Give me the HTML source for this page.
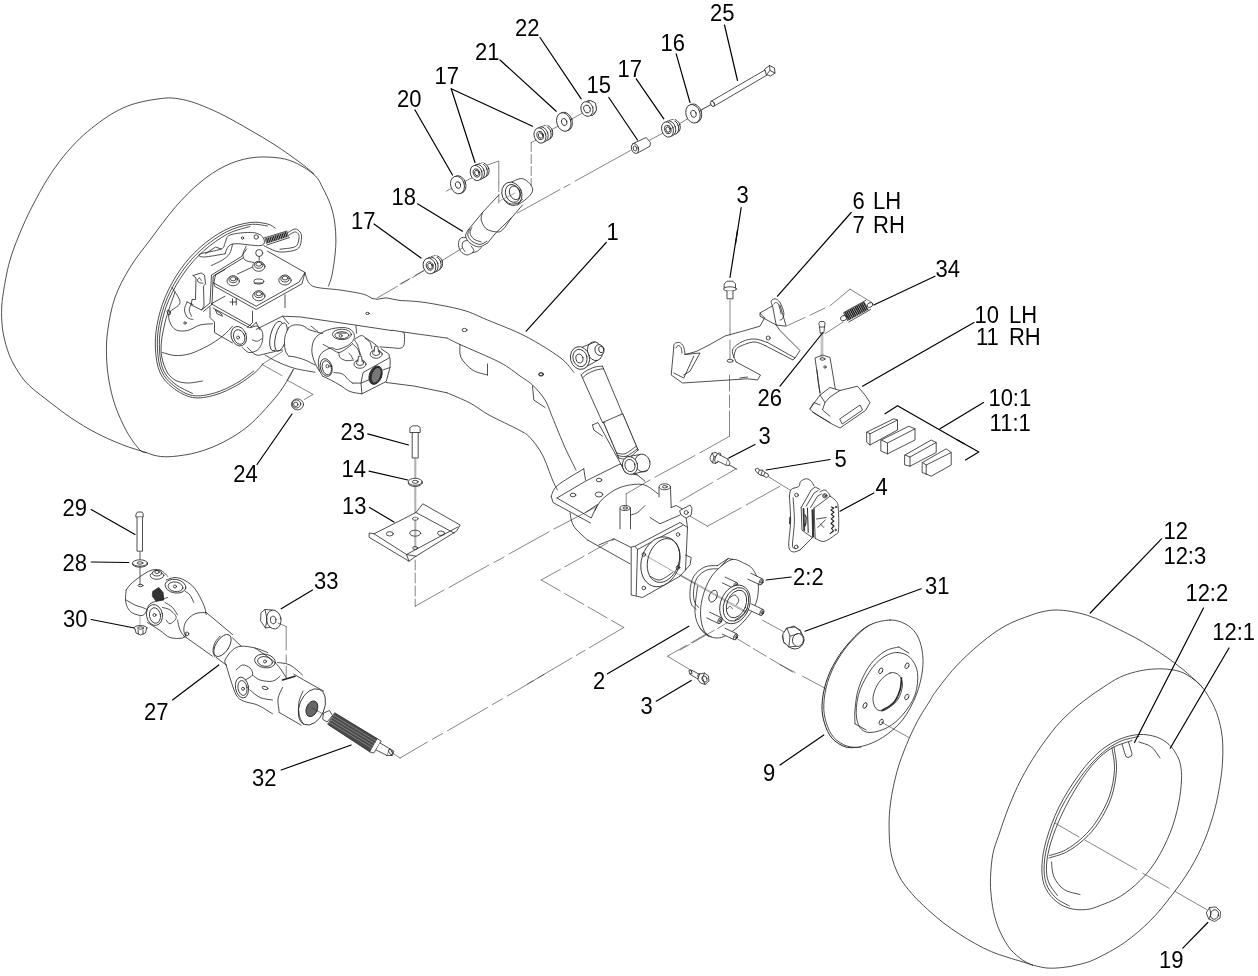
<!DOCTYPE html>
<html><head><meta charset="utf-8"><title>Rear axle assembly</title>
<style>
html,body{margin:0;padding:0;background:#fff}
svg{display:block}
.t text{font-family:"Liberation Sans",sans-serif;font-size:22px;fill:#000}
</style></head><body>
<svg width="1258" height="976" viewBox="0 0 1258 976">
<rect width="1258" height="976" fill="#fff"/>
<g fill="none" stroke="#222" stroke-width="0.8" stroke-linecap="round" stroke-linejoin="round">
<path d="M146 452.5 C142 451.2 130.1 447.8 121.8 444.5 C113.5 441.2 104.8 437.4 96.3 433 C87.8 428.6 79.4 423.5 70.9 417.8 C62.4 412.1 52.5 404.2 45.4 398.7 C38.3 393.2 33 389.3 28.6 385 C24.2 380.7 22.2 377.9 19 373 C15.8 368.1 12.1 362.2 9.5 355.6 C6.9 349 4.5 340.5 3.2 333.3 C1.9 326.1 1.6 319.3 1.6 312.7 C1.6 306.1 1.9 302.1 3.2 293.6 C4.5 285.1 6.8 271.6 9.5 261.8 C12.2 252 15.4 244.1 19.1 235 C22.8 225.9 27 216.6 31.8 207.2 C36.6 197.8 42.4 187.1 47.7 178.6 C53 170.1 58.3 162.9 63.6 156.3 C68.9 149.7 74.2 144 79.5 138.8 C84.8 133.6 90.1 129.4 95.4 125.3 C100.7 121.2 106 117.4 111.3 114.2 C116.6 111 121.9 108.3 127.2 106.2 C132.5 104.1 137.8 102.7 143.1 101.5 C148.4 100.3 154.2 99.4 159 98.8 C163.8 98.2 166.9 97.7 171.7 98 C176.5 98.3 182.4 99.3 187.7 100.7 C193 102.1 197.4 103.7 203.6 106.2 C209.8 108.8 217.3 112 225 116 C232.7 120 241.7 125.2 250 130 C258.3 134.8 266.7 139.6 275 145 C283.3 150.4 293.5 157.7 300 162.5 C306.5 167.3 311.7 172.1 314 174"/>
<path d="M146 452.5 C144.9 452 142.8 453.1 139.6 449.6 C136.4 446.2 130.9 439 126.9 431.8 C122.9 424.6 118.4 414.8 115.4 406.3 C112.4 397.8 110.5 389.4 109 380.9 C107.5 372.4 106.7 363.9 106.5 355.4 C106.3 346.9 106.4 339.6 107.8 330 C109.2 320.4 111.3 307.9 115 297.5 C118.7 287.1 124.2 277.1 130 267.5 C135.8 257.9 142.5 250 150 240 C157.5 230 166.7 217.1 175 207.5 C183.3 197.9 191.7 189.4 200 182.5 C208.3 175.6 216.7 170.1 225 166 C233.3 161.9 241.7 159.4 250 158 C258.3 156.6 267.5 156.8 275 157.5 C282.5 158.2 288.4 159.5 295 162.5 C301.6 165.5 310.3 171.1 314.9 175.4 C319.5 179.7 320.1 183.1 322.8 188.1 C325.5 193.1 328.8 199.8 330.8 205.6 C332.8 211.4 334 217.4 334.8 223.1 C335.6 228.8 335.9 234.7 335.9 240 C335.9 245.3 335.6 249.2 335 255 C334.4 260.8 333.1 269.8 332 275 C330.9 280.2 329.1 284.2 328.5 286"/>
<path d="M293.5 369.4 C292.4 371.3 290.3 376 287.1 380.9 C283.9 385.8 280.8 391.3 274.4 398.7 C268 406.1 257.5 418.2 249 425.4 C240.5 432.6 232 437.6 223.5 442 C215 446.4 206.6 449.7 198.1 452.1 C189.6 454.5 179.5 455.9 172.7 456.5 C165.9 457.1 161.8 456.7 157.4 456 C153 455.3 147.9 453.1 146 452.5"/>
<path d="M275 228 C273.8 227.3 271.7 224.9 267.5 224 C263.3 223.1 257.1 221.5 250 222.5 C242.9 223.5 233.3 225.8 225 230 C216.7 234.2 207.5 240.8 200 247.5 C192.5 254.2 185.8 261.7 180 270 C174.2 278.3 168.8 288.3 165 297.5 C161.2 306.7 158.6 316.2 157 325 C155.4 333.8 155 342.1 155.5 350 C156 357.9 157.2 366.2 160 372.5 C162.8 378.8 167.1 383.3 172.5 387.5 C177.9 391.7 185.4 396.2 192.5 397.5 C199.6 398.8 207.5 397.1 215 395 C222.5 392.9 230.8 388.8 237.5 385 C244.2 381.2 250.8 376 255 372.5 C259.2 369 261.7 365.2 263 363.8"/>
<path d="M267.5 226 C264.6 225.8 256.9 223.5 250 224.5 C243.1 225.5 234.3 227.9 226.2 232 C218.2 236.1 209.1 242.7 201.8 249.2 C194.4 255.8 187.8 263.3 182 271.5 C176.2 279.7 170.8 289.5 167 298.5 C163.2 307.5 160.6 316.9 159 325.5 C157.4 334.1 157 342.3 157.5 350 C158 357.7 159 365.5 161.8 371.5 C164.5 377.5 168.6 381.8 173.8 385.8 C178.9 389.8 185.7 394.3 192.5 395.5 C199.3 396.7 207.2 395 214.5 393 C221.8 391 230 386.9 236.5 383.2 C243 379.6 250.9 373 253.8 371"/>
<path d="M250 226.5 C246.2 227.8 235.2 229.9 227.5 234 C219.8 238.1 210.8 244.5 203.5 251 C196.2 257.5 189.8 264.9 184 273 C178.2 281.1 172.8 290.7 169 299.5 C165.2 308.3 162.6 317.6 161 326 C159.4 334.4 159.1 342.6 159.5 350 C159.9 357.4 160.9 364.8 163.5 370.5 C166.1 376.2 170.2 380.2 175 384 C179.8 387.8 189.6 391.9 192.5 393.5"/>
<path d="M175 292 C173.3 297.1 167.3 312.8 165 322.5 C162.7 332.2 160.8 342.1 161 350 C161.2 357.9 163.7 365 166 370 C168.3 375 171.4 377.8 175 380 C178.6 382.2 182.9 382.8 187.5 383 C192.1 383.2 200 381.3 202.5 381"/>
<path d="M162.5 352.5 C164.6 353 170.4 355.3 175 355.5 C179.6 355.7 184.6 355.3 190 353.8 C195.4 352.2 202.1 348.9 207.5 346 C212.9 343.1 218.3 339.5 222.5 336.2 C226.7 333 230.8 327.9 232.5 326.2"/>
<path d="M172 287.5 C173.3 290 180.4 298.3 180 302.5 C179.6 306.7 171.2 309.2 169.5 312.5 C167.8 315.8 168.9 319.6 170 322.5 C171.1 325.4 173.3 328.7 176.2 330 C179.2 331.3 183.5 331.3 187.5 330.5 C191.5 329.7 195.8 326.1 200 325 C204.2 323.9 210.4 324 212.5 323.8"/>
<ellipse cx="185" cy="323" rx="1.2" ry="1.2"/>
<ellipse cx="168.8" cy="312.5" rx="1.5" ry="2.5" transform="rotate(-20 168.8 312.5)"/>
<path d="M193 275.5 L201.2 273 L204.5 275 L205.5 283.8 L203.5 286.2 L204 306.2 L201.5 310 L191.2 305 L192 299.5 L195.5 299.5 L196 278 L193 275.5"/>
<path d="M201.2 280.5 C201 280.1 200.1 278.1 199.5 278 C198.9 277.9 197.6 279.2 197.5 280 C197.4 280.8 198.1 282 199 282.5 C199.9 283 202.3 283.1 203 283.2"/>
<path d="M201.5 310 L210 303 L211.5 275 L241.5 256.5 L246.5 249"/>
<path d="M203.5 311.2 L212 304.5 L213.2 276.2 L243 258"/>
<path d="M187 302 C186.6 303.3 184.4 307.4 184.5 310 C184.6 312.6 186.1 315.9 187.5 317.5 C188.9 319.1 192.1 319.2 193 319.5"/>
<path d="M191.2 303.8 C190.9 304.8 189.2 307.9 189.2 310 C189.3 312.1 191.1 315.2 191.5 316.2"/>
<path d="M187 302 L193 304.5"/>
<path d="M225 253.8 C221.5 254.3 207.9 257 203.8 257 C199.6 257 197.1 255.3 200 254 C202.9 252.7 217.1 250.8 221.2 249 C225.4 247.2 223.5 245.3 225 243 C226.5 240.7 225.4 236.8 230 235 C234.6 233.2 247 232.1 252.5 232.5 C258 232.9 261.6 235.3 263 237.5 C264.4 239.7 266.1 244.4 261 245.5 C255.9 246.6 238.5 242.6 232.5 244 C226.5 245.4 226.2 252.1 225 253.8"/>
<ellipse cx="242.5" cy="238" rx="1.2" ry="1.2"/>
<ellipse cx="256.2" cy="237" rx="2.2" ry="2.2"/>
<path d="M205.5 253.8 L215.5 247 L221.2 249"/>
<path d="M232.5 244.5 C232 246 231.2 251.2 229.5 253.8 C227.8 256.3 225.5 258 222.5 260 C219.5 262 213.3 264.6 211.5 265.5"/>
<path d="M246.2 246.2 C245.7 247.5 243.2 251.5 243 253.8 C242.8 256 243.2 258.5 245 260 C246.8 261.5 252.3 262.1 253.8 262.5"/>
<path d="M265.5 241.2 L288 234" stroke="#222" stroke-width="5.2" stroke-linecap="butt"/>
<path d="M265.5 241.2 L288 234" stroke="#fff" stroke-width="5.4" stroke-linecap="butt" stroke-dasharray="0.45 1.35" stroke-dashoffset="-0.8"/>
<path d="M264 238 L287 231"/>
<path d="M267 245 L289.5 237.5"/>
<path d="M288 232.5 C289.2 231.9 293 229.1 295 229 C297 228.9 298.9 230.5 300 232 C301.1 233.5 301.9 235.2 301.5 238 C301.1 240.8 301.1 246.7 297.5 249 C293.9 251.3 285 252.2 280 252 C275 251.8 270.2 248.6 267.5 247.5 C264.8 246.4 264.4 245.8 263.8 245.5"/>
<path d="M289 235 C289.9 234.5 293 232.2 294.5 232 C296 231.8 297.2 232.5 298 233.5 C298.8 234.5 299.4 235.8 299 238 C298.6 240.2 298.7 244.6 295.5 246.5 C292.3 248.4 282.6 248.8 280 249.2"/>
<ellipse cx="259.2" cy="253" rx="3.5" ry="3.5" fill="#fff"/>
<path d="M259.2 256.5 L259.2 260"/>
<path d="M213.8 283 L256.2 306.2 L299.2 282 L305 272.5 L267.5 251.2"/>
<path d="M213.8 283 L214.5 286.2 L256.2 309.5 L302 283.8 L305 272.5"/>
<path d="M215.5 275 L213.8 283"/>
<path d="M215.5 275 L225 269.5"/>
<path d="M237.5 274 L252.5 267"/>
<ellipse cx="258.8" cy="266.5" rx="6.2" ry="4.8" fill="#fff"/>
<ellipse cx="258.8" cy="264.8" rx="4.2" ry="3.5" fill="#fff"/>
<ellipse cx="258.8" cy="264.2" rx="2.8" ry="2"/>
<ellipse cx="233.2" cy="281" rx="6.2" ry="4.8" fill="#fff"/>
<ellipse cx="233.2" cy="279.2" rx="4.2" ry="3.5" fill="#fff"/>
<ellipse cx="233.2" cy="278.8" rx="2.8" ry="2"/>
<ellipse cx="285" cy="280.2" rx="6.2" ry="4.8" fill="#fff"/>
<ellipse cx="285" cy="278.5" rx="4.2" ry="3.5" fill="#fff"/>
<ellipse cx="285" cy="278" rx="2.8" ry="2"/>
<ellipse cx="258.8" cy="296" rx="6.2" ry="4.8" fill="#fff"/>
<ellipse cx="258.8" cy="294.2" rx="4.2" ry="3.5" fill="#fff"/>
<ellipse cx="258.8" cy="293.8" rx="2.8" ry="2"/>
<ellipse cx="258.8" cy="281.5" rx="5" ry="2.5"/>
<path d="M254.5 283 L263 283"/>
<path d="M211.2 303.8 L225 296.2"/>
<path d="M211.2 303.8 L251.2 326.2"/>
<path d="M232.5 298.8 L232.5 305"/>
<path d="M230 302 L236.2 302"/>
<path d="M236.2 298.8 L236.2 305"/>
<path d="M252.5 311.2 L252.5 322.5 L247.5 327.5"/>
<path d="M285 295 L285 307.5"/>
<path d="M210 307.5 L210 317.5 L214.5 322 L214.5 332.5 L232.5 343"/>
<path d="M215.5 310 L221.2 313.8 L222.5 316.2 L217 313.8 L215.5 310"/>
<path d="M213 308 L250 328 L256.2 322.5"/>
<ellipse cx="238.8" cy="336.2" rx="7.5" ry="10" transform="rotate(-20 238.8 336.2)" fill="#fff"/>
<ellipse cx="239.2" cy="337" rx="5.5" ry="7.5" transform="rotate(-20 239.2 337)"/>
<ellipse cx="238" cy="337.5" rx="1.5" ry="1.5"/>
<path d="M251.2 327.5 C252.3 327.3 255.6 325.4 257.5 326.2 C259.4 327.1 261.8 329.8 262.5 332.5 C263.2 335.2 262.8 339.6 262 342.5 C261.2 345.4 259.7 348.3 257.5 350 C255.3 351.7 251.2 352.9 248.8 352.5 C246.2 352.1 243.5 348.3 242.5 347.5"/>
<path d="M252.5 340 C253.3 340.2 256 341.5 257.5 341.2 C259 341 260.8 339.2 261.5 338.8"/>
<path d="M256.2 322.5 L260 330"/>
<path d="M305 273 C306.2 275.2 306.7 283.2 312.5 286 C318.3 288.8 331.7 288.7 340 290 C348.3 291.3 357.1 292.6 362.5 294 C367.9 295.4 370.7 297.8 372.3 298.5"/>
<path d="M372.3 298.5 L377 299.3 L386 297.8 L400 300.5"/>
<path d="M256.2 329.4 L282.5 316.2 L300 316.9 L355 325 L392 330.6"/>
<path d="M392 330.2 L402.5 331.9 L447 338.1"/>
<ellipse cx="367.5" cy="313.4" rx="1.8" ry="1.1"/>
<path d="M356 325.6 L356.5 333.1"/>
<path d="M402.5 331.9 C402.8 332.2 404.1 331.8 404.4 334 C404.6 336.2 404.7 342.6 404 345 C403.3 347.4 401.9 347.8 400 348.2 C398.1 348.7 395.8 348 392.5 347.8 C389.2 347.5 382.1 347 380 346.9"/>
<path d="M386.2 382.5 L415 386.2 L447 392.8"/>
<ellipse cx="276.5" cy="336" rx="6" ry="15.2" transform="rotate(14 276.5 336)" fill="#fff"/>
<ellipse cx="281" cy="337" rx="5.5" ry="14.5" transform="rotate(14 281 337)" fill="#fff"/>
<path d="M282.5 316.2 L288.8 323.8"/>
<path d="M288.8 327.5 C288.1 329.2 285.3 333.8 284.8 337.5 C284.2 341.2 284.6 346.9 285.2 350 C285.9 353.1 288.2 355.2 288.8 356.2" fill="#fff"/>
<path d="M288.8 327.5 C289.6 327.1 291.5 325.3 293.8 325 C296 324.7 299.8 324.8 302.5 325.6 C305.2 326.5 306.7 328.7 310 330 C313.3 331.3 320.4 332.9 322.5 333.5"/>
<path d="M288.8 356.2 C289.8 356.4 292.3 356.4 295 357 C297.7 357.6 301.7 358.7 305 360 C308.3 361.3 313.3 364.2 315 365"/>
<path d="M311.2 326.2 C311.9 326.8 314 328.5 315 329.4 C316 330.2 317.1 330.9 317.5 331.2"/>
<path d="M247.5 347.5 C249 348.8 253.3 354 256.2 355 C259.2 356 261.7 354.4 265 353.8 C268.3 353.1 273.3 351.9 276.2 351.2 C279.2 350.6 281.5 350.2 282.5 350"/>
<path d="M265 355 C266.9 356 271.5 359.1 276.2 361.2 C281 363.4 287.3 366.3 293.8 368.1 C300.2 370 311.5 371.6 315 372.2"/>
<path d="M282.5 351.5 L261.9 364.4 L281.9 375.6" stroke-width="0.6" stroke="#333"/>
<path d="M287.5 379.4 L293.1 369.4" stroke-width="0.6" stroke="#333"/>
<path d="M286.9 380 L313.1 394.4 L304.4 399.4" stroke-width="0.6" stroke="#333"/>
<path d="M322.8 376.2 C322.2 375.2 320.1 372.7 319.4 370 C318.7 367.3 318 362.9 318.5 360 C319 357.1 320.1 354.5 322.2 352.5 C324.4 350.5 328.7 348.2 331.2 347.8 C333.8 347.2 334.6 350 337.5 349.5 C340.4 349 345.9 347 348.8 345 C351.6 343 353.9 340 354.4 337.5 C354.8 335 353.5 331.9 351.5 330.2 C349.5 328.6 346.5 327.5 342.5 327.5 C338.5 327.5 332 328.3 327.5 330 C323 331.7 318.2 334.4 315.6 337.5 C313 340.6 312.2 345 311.9 348.8 C311.6 352.5 312.5 356.2 313.8 360 C315 363.8 318.4 369.4 319.4 371.2"/>
<ellipse cx="341.9" cy="334.4" rx="9.5" ry="5.2" fill="#fff"/>
<ellipse cx="341.9" cy="335.2" rx="7" ry="3.5"/>
<ellipse cx="340.6" cy="335.8" rx="1.5" ry="1.5"/>
<path d="M337.5 333.1 L346.2 333.1"/>
<ellipse cx="326.2" cy="367.5" rx="5.8" ry="9" transform="rotate(-15 326.2 367.5)" fill="#fff"/>
<ellipse cx="326.8" cy="367.8" rx="4.5" ry="7.2" transform="rotate(-15 326.8 367.8)"/>
<ellipse cx="327.5" cy="366.2" rx="1.6" ry="1.6"/>
<path d="M323.1 344.4 C324.5 345.1 328.6 347.4 331.2 348.8 C333.9 350.1 336.2 352.5 338.8 352.5 C341.2 352.5 344 350.2 346.2 348.8 C348.5 347.3 351.5 344.6 352.5 343.8"/>
<path d="M338.8 352.5 C339 353.3 338.8 356.1 340 357.5 C341.2 358.9 344 360.2 346.2 360.6 C348.5 361 352.5 360.1 353.8 360"/>
<path d="M352.5 343.8 C353.3 344.6 356.2 346.9 357.5 348.8 C358.8 350.6 359.6 354 360 355"/>
<path d="M348.8 353.1 C349.2 353.5 350.6 354.7 351.2 355.6 C351.9 356.6 352.3 358.2 352.5 358.8"/>
<path d="M355 339 C356 338.4 359.5 335.8 361.2 335.6 C363 335.4 363.1 336.2 365.6 337.8 C368.1 339.3 374.5 343.8 376.2 345"/>
<path d="M354.4 340 C354.9 340.8 356.5 342.5 357.5 345 C358.5 347.5 360.1 353.3 360.6 355"/>
<path d="M365 338.1 C365.8 338.9 368.9 340.7 370 342.5 C371.1 344.3 371.6 347.7 371.9 348.8"/>
<path d="M381.2 348.8 L388.8 354 L390.2 360 L390 367.5 L386.2 381.5 L361.9 393.8 L361 383.1 L363.1 372.5 L388.8 358.1"/>
<path d="M352.5 383.1 L361 383.1 L370 379.4"/>
<path d="M382.8 370 L390 367.5"/>
<path d="M334 372.5 C335.4 372.8 340 372.7 342.5 374 C345 375.3 347.1 378.7 348.8 380.2 C350.4 381.8 351.9 382.6 352.5 383.1"/>
<path d="M322.8 376.2 C324.2 376.9 328.4 378.8 331.2 380.2 C334.1 381.8 336.9 383.4 340 385.2 C343.1 387.1 346.4 390.1 350 391.5 C353.6 392.9 359.9 393.4 361.9 393.8"/>
<ellipse cx="375.6" cy="375.2" rx="6.2" ry="9.5" transform="rotate(20 375.6 375.2)" fill="#333"/>
<ellipse cx="376.2" cy="375.2" rx="4.5" ry="8.2" transform="rotate(20 376.2 375.2)" fill="#777" stroke="#222"/>
<ellipse cx="360" cy="364.1" rx="6" ry="4.2" fill="#fff"/>
<ellipse cx="360" cy="362.5" rx="3.8" ry="3" fill="#fff"/>
<path d="M357.8 361.9 L358.5 356.2 L361.5 356.2 L362.2 361.9" fill="#fff"/>
<ellipse cx="376.2" cy="354.1" rx="6" ry="4.2" fill="#fff"/>
<ellipse cx="376.2" cy="352.5" rx="3.8" ry="3" fill="#fff"/>
<path d="M374 351.9 L374.8 346.2 L377.8 346.2 L378.5 351.9" fill="#fff"/>
<ellipse cx="297.5" cy="404.4" rx="6" ry="5.5" fill="#fff"/>
<ellipse cx="296.5" cy="404" rx="4.2" ry="4"/>
<ellipse cx="295.8" cy="404.4" rx="2.2" ry="2.2"/>
<path d="M257 464.5 L292 414" stroke-width="1.2" stroke="#000000"/>
<path d="M374 224 L421 258" stroke-width="1.2" stroke="#000000"/>
<path d="M377 298 L397.5 286.2" stroke-width="0.6" stroke="#333"/>
<path d="M401.2 284 L408.8 279.5" stroke-width="0.6" stroke="#333"/>
<path d="M412.5 277.5 L423.8 270.8" stroke-width="0.6" stroke="#333"/>
<path d="M446.2 191.2 L475 176.2" stroke-width="0.6" stroke="#333"/>
<path d="M547.5 131.8 L585 111.8" stroke-width="0.6" stroke="#333"/>
<path d="M650 140 L663 133" stroke-width="0.6" stroke="#333"/>
<path d="M677.5 125 L688 118.5" stroke-width="0.6" stroke="#333"/>
<path d="M700 110.5 L714 103" stroke-width="0.6" stroke="#333"/>
<ellipse cx="459" cy="184.5" rx="6.8" ry="9" transform="rotate(-18 459 184.5)" fill="#fff"/>
<ellipse cx="457.5" cy="185" rx="6.8" ry="9" transform="rotate(-18 457.5 185)" fill="#fff"/>
<ellipse cx="458" cy="185" rx="2.6" ry="3.4" transform="rotate(-18 458 185)"/>
<ellipse cx="483.8" cy="169.8" rx="5.1" ry="7" transform="rotate(-18 483.8 169.8)" fill="#fff"/>
<ellipse cx="481.6" cy="170.7" rx="5.6" ry="7.5" transform="rotate(-18 481.6 170.7)" fill="#fff"/>
<path d="M477.8 165.5 L483.1 163.4" stroke-width="1.6" stroke="#fff"/>
<ellipse cx="478.5" cy="172" rx="5.8" ry="7.8" transform="rotate(-18 478.5 172)" fill="#fff"/>
<ellipse cx="476.2" cy="173" rx="5.8" ry="7.8" transform="rotate(-18 476.2 173)" fill="#fff"/>
<ellipse cx="476.5" cy="173" rx="3.2" ry="4.3" transform="rotate(-18 476.5 173)"/>
<ellipse cx="476.8" cy="173" rx="2.1" ry="2.8" transform="rotate(-18 476.8 173)"/>
<ellipse cx="547.5" cy="132.2" rx="5.1" ry="7" transform="rotate(-18 547.5 132.2)" fill="#fff"/>
<ellipse cx="545.4" cy="133.2" rx="5.6" ry="7.5" transform="rotate(-18 545.4 133.2)" fill="#fff"/>
<path d="M541.5 128 L546.9 125.9" stroke-width="1.6" stroke="#fff"/>
<ellipse cx="542.2" cy="134.5" rx="5.8" ry="7.8" transform="rotate(-18 542.2 134.5)" fill="#fff"/>
<ellipse cx="540" cy="135.5" rx="5.8" ry="7.8" transform="rotate(-18 540 135.5)" fill="#fff"/>
<ellipse cx="540.2" cy="135.5" rx="3.2" ry="4.3" transform="rotate(-18 540.2 135.5)"/>
<ellipse cx="540.5" cy="135.5" rx="2.1" ry="2.8" transform="rotate(-18 540.5 135.5)"/>
<ellipse cx="565.2" cy="121.5" rx="7" ry="9.5" transform="rotate(-18 565.2 121.5)" fill="#fff"/>
<ellipse cx="563.8" cy="122" rx="7" ry="9.5" transform="rotate(-18 563.8 122)" fill="#fff"/>
<ellipse cx="564.2" cy="122" rx="2.7" ry="3.6" transform="rotate(-18 564.2 122)"/>
<ellipse cx="590" cy="108" rx="6" ry="7.5" transform="rotate(-18 590 108)" fill="#fff"/>
<path d="M585.5 102.5 L590.5 100.5 L595.5 103 L596.5 110 L592.5 115.5 L587 114.5" fill="#fff"/>
<ellipse cx="587" cy="109" rx="6" ry="7.5" transform="rotate(-18 587 109)" fill="#fff"/>
<ellipse cx="587" cy="109" rx="3.2" ry="4" transform="rotate(-18 587 109)"/>
<path d="M632.5 143.8 L646.2 137.5 L650.5 142.5 L650 146.2 L637.5 153" fill="#fff"/>
<ellipse cx="635" cy="148.5" rx="3.5" ry="5" transform="rotate(-18 635 148.5)" fill="#fff"/>
<ellipse cx="635" cy="148.5" rx="1.8" ry="2.5" transform="rotate(-18 635 148.5)"/>
<ellipse cx="675" cy="126.2" rx="5.1" ry="7" transform="rotate(-18 675 126.2)" fill="#fff"/>
<ellipse cx="672.9" cy="127.2" rx="5.6" ry="7.5" transform="rotate(-18 672.9 127.2)" fill="#fff"/>
<path d="M669 122 L674.4 119.9" stroke-width="1.6" stroke="#fff"/>
<ellipse cx="669.8" cy="128.5" rx="5.8" ry="7.8" transform="rotate(-18 669.8 128.5)" fill="#fff"/>
<ellipse cx="667.5" cy="129.5" rx="5.8" ry="7.8" transform="rotate(-18 667.5 129.5)" fill="#fff"/>
<ellipse cx="667.8" cy="129.5" rx="3.2" ry="4.3" transform="rotate(-18 667.8 129.5)"/>
<ellipse cx="668" cy="129.5" rx="2.1" ry="2.8" transform="rotate(-18 668 129.5)"/>
<ellipse cx="694.5" cy="113.2" rx="7" ry="9.5" transform="rotate(-18 694.5 113.2)" fill="#fff"/>
<ellipse cx="693" cy="113.8" rx="7" ry="9.5" transform="rotate(-18 693 113.8)" fill="#fff"/>
<ellipse cx="693.5" cy="113.8" rx="2.7" ry="3.6" transform="rotate(-18 693.5 113.8)"/>
<path d="M487.5 165 L498.8 161 L498.8 182.5" stroke-width="0.6" stroke="#333"/>
<path d="M498.8 182.5 L498.8 203" stroke-width="0.6" stroke="#333" stroke-dasharray="9 3"/>
<path d="M536.2 140 L531.2 142.5" stroke-width="0.6" stroke="#333"/>
<path d="M531.2 142.5 L531.2 185.5" stroke-width="0.6" stroke="#333" stroke-dasharray="9 3"/>
<path d="M630.5 150.5 L575 181.2" stroke-width="0.6" stroke="#333"/>
<path d="M570 184.2 L563.8 187.5" stroke-width="0.6" stroke="#333"/>
<path d="M560 189.5 L517.5 213" stroke-width="0.6" stroke="#333"/>
<path d="M540 37.5 L581.2 98.8" stroke-width="1.2" stroke="#000000"/>
<path d="M500 60 L556.2 111.2" stroke-width="1.2" stroke="#000000"/>
<path d="M451.2 88.8 L475 162.5" stroke-width="1.2" stroke="#000000"/>
<path d="M451.2 88.8 L532.5 126.2" stroke-width="1.2" stroke="#000000"/>
<path d="M415 110 L452.5 175" stroke-width="1.2" stroke="#000000"/>
<path d="M608.8 97.5 L637.5 140" stroke-width="1.2" stroke="#000000"/>
<path d="M636.2 78.8 L663.8 118.8" stroke-width="1.2" stroke="#000000"/>
<path d="M676.2 53.8 L690 102.5" stroke-width="1.2" stroke="#000000"/>
<path d="M417.5 203.8 L462.5 231.2" stroke-width="1.2" stroke="#000000"/>
<path d="M498.8 195 L482.5 212.5 L468.1 230"/>
<path d="M522.5 205 L511.2 218.1 L496.2 232.5 L487.5 243.1"/>
<path d="M482.5 212.5 C482.3 213.8 480.6 217.3 481.2 220 C481.9 222.7 483.8 226.8 486.2 228.8 C488.8 230.7 493.5 231.7 496.2 231.9 C499 232.1 500 232.3 502.5 230 C505 227.7 509.8 220.1 511.2 218.1"/>
<path d="M509.4 183.1 C511.4 182.4 517.8 178.4 521.2 178.5 C524.7 178.6 528.1 181.6 530 183.8 C531.9 185.9 533.1 188.7 532.5 191.2 C531.9 193.8 528.8 196.7 526.2 199 C523.8 201.3 519 204 517.5 205"/>
<ellipse cx="511.9" cy="193.8" rx="9.8" ry="12" transform="rotate(-22 511.9 193.8)" fill="#fff"/>
<ellipse cx="512.8" cy="193.4" rx="7.2" ry="9.2" transform="rotate(-22 512.8 193.4)"/>
<ellipse cx="514.8" cy="192.8" rx="5.2" ry="7" transform="rotate(-22 514.8 192.8)"/>
<path d="M505 200 C505.8 200.6 507.9 203.2 510 203.8 C512.1 204.3 515.4 203.9 517.5 203.1 C519.6 202.4 521.7 200 522.5 199.4"/>
<path d="M498.8 201.2 L515 193.1" stroke-width="0.45" stroke="#444"/>
<path d="M468.1 230 C467.7 231 465.3 234.1 465.6 236.2 C465.9 238.4 467.8 241.4 470 243.1 C472.2 244.9 476 246.8 478.8 246.9 C481.5 247 484.8 244.4 486.2 243.8 C487.7 243.1 487.3 243.2 487.5 243.1"/>
<path d="M470 228.8 C469.6 229.8 467.4 232.9 467.8 235 C468.1 237.1 469.8 239.7 471.9 241.2 C473.9 242.8 477.5 244.4 480 244.4 C482.5 244.4 485.7 241.8 486.9 241.2"/>
<path d="M471.9 227.5 C471.6 228.4 469.7 231.2 470 233.1 C470.3 235 471.9 237.5 473.8 239 C475.6 240.5 480 241.4 481.2 241.9"/>
<path d="M465.6 237.5 C464.8 237.6 461.8 237.1 460.6 238.1 C459.4 239.2 458.5 241.6 458.5 243.8 C458.5 245.9 459.2 249.4 460.6 251.2 C462 253.1 464.9 254.8 466.9 255 C468.9 255.2 471.8 252.9 472.8 252.5"/>
<path d="M466.9 240.6 C466.2 240.8 463.9 240.8 463.1 241.9 C462.4 242.9 461.9 245.3 462.2 246.9 C462.6 248.5 464.5 250.7 465 251.5"/>
<path d="M472.8 252.5 C473.5 252.3 476.1 252.1 477.5 251.2 C478.9 250.4 480.6 248.1 481.2 247.5"/>
<path d="M471.2 246.2 C471.7 246.9 473.5 249 473.8 250 C474 251 472.9 252.1 472.8 252.5"/>
<path d="M462.5 248 L440 261.8" stroke-width="0.6" stroke="#333"/>
<ellipse cx="437" cy="262.8" rx="5.5" ry="7.2" transform="rotate(-18 437 262.8)" fill="#fff"/>
<ellipse cx="434.9" cy="263.7" rx="6.1" ry="7.8" transform="rotate(-18 434.9 263.7)" fill="#fff"/>
<path d="M431 258.2 L436.4 256.2" stroke-width="1.6" stroke="#fff"/>
<ellipse cx="431.8" cy="265" rx="6.2" ry="8" transform="rotate(-18 431.8 265)" fill="#fff"/>
<ellipse cx="429.5" cy="266" rx="6.2" ry="8" transform="rotate(-18 429.5 266)" fill="#fff"/>
<ellipse cx="429.8" cy="266" rx="3.4" ry="4.4" transform="rotate(-18 429.8 266)"/>
<ellipse cx="430" cy="266" rx="2.2" ry="2.9" transform="rotate(-18 430 266)"/>
<path d="M400 284 L410 278.5" stroke-width="0.6" stroke="#333"/>
<path d="M415 275.5 L423.8 270.5" stroke-width="0.6" stroke="#333"/>
<path d="M606.2 242.5 L526.2 331.2" stroke-width="1.2" stroke="#000000"/>
<path d="M724.5 25 L737.5 80.5" stroke-width="1.2" stroke="#000000"/>
<path d="M701.2 110 L711.2 104.5" stroke-width="0.6" stroke="#333"/>
<path d="M711.2 101.2 L765 70 L768 74.5 L714 106.2 L711.2 101.2" fill="#fff"/>
<ellipse cx="712.5" cy="103.8" rx="1.8" ry="2.8" transform="rotate(-25 712.5 103.8)" fill="#fff"/>
<path d="M765 68.8 L769.5 65.5 L774.5 68 L775 73 L770.5 76 L766.5 74.5 Z" fill="#fff"/>
<path d="M769.5 65.5 L770 70.5 L775 73"/>
<path d="M770 70.5 L766.5 74.5"/>
<path d="M741.2 207.5 L735.5 244" stroke-width="1.2" stroke="#000000"/>
<path d="M737.5 230 L730 277.5" stroke-width="1.2" stroke="#000000"/>
<path d="M851.2 212.5 L777.5 296.2" stroke-width="1.2" stroke="#000000"/>
<path d="M724.5 283.8 L727 281.2 L733 281.2 L735.5 283.8 L735.5 288 L724.5 288 Z" fill="#fff"/>
<ellipse cx="730" cy="289" rx="6.5" ry="2.2" fill="#fff"/>
<path d="M727 291.2 L727 298.8 L733 298.8 L733 291.2" fill="#fff"/>
<path d="M730 300 L730 335" stroke-width="0.6" stroke="#333"/>
<path d="M730 340 L730 358.8" stroke-width="0.6" stroke="#333"/>
<path d="M673.8 347.5 C673.9 346.9 673.5 344.6 674.5 343.8 C675.5 342.9 678 342 679.5 342.5 C681 343 682.6 344.6 683.5 346.5 C684.4 348.4 684.8 352.8 685 354"/>
<path d="M676 348 C676.3 347.6 677.2 345.6 678 345.5 C678.8 345.4 680.3 346.2 681 347.5 C681.7 348.8 681.8 352.1 682 353"/>
<path d="M685 354.5 L696.2 351.5 L710 344.5 L725 336 L745 330.5 L760 326.2 L764.5 318"/>
<path d="M673.8 347.5 L671.2 375 L682.5 383 L747.5 378.8 L757.5 380 L760.5 375 L736.2 362"/>
<path d="M673.8 373 L683.8 378 L693.8 356.2"/>
<path d="M685 354.5 L700 353 L690 371.2 L683.8 375"/>
<path d="M736.2 362 C735.6 360 731.5 353.4 732.5 350 C733.5 346.6 738.8 343.3 742.5 341.5 C746.2 339.7 750.8 338.8 755 339 C759.2 339.2 765.4 341.9 767.5 342.5"/>
<path d="M767.5 342.5 L795 358 L800 350.5 L780 330.5 L776.2 325"/>
<path d="M733.8 357.5 C734.2 356.1 734.5 351.2 736.2 349 C738 346.8 741.4 345.7 744.5 344.5 C747.6 343.3 751.6 341.8 755 342 C758.4 342.2 763.3 344.9 765 345.5"/>
<path d="M765 345.5 L793 360 L795 358"/>
<ellipse cx="768.2" cy="338" rx="2" ry="2"/>
<ellipse cx="730" cy="360.8" rx="3" ry="1.5"/>
<path d="M740 378 L747.5 377"/>
<path d="M764.5 318 L760 313 L772.5 305.8 L776.2 325 L786.2 326.2 L780 305"/>
<path d="M760 313 L760 316.2 L776.2 325"/>
<path d="M772.5 305.8 C772.3 305 770.8 302.4 771.2 301.2 C771.7 300.1 773.5 298.5 775 298.8 C776.5 299 778.5 300.2 780 302.5 C781.5 304.8 783.3 309.8 783.8 312.5 C784.2 315.2 783.1 317.5 782.5 318.8 C781.9 320 780.4 319.8 780 320"/>
<path d="M773.8 304 C774.2 303.8 775.4 302.3 776.2 302.5 C777.1 302.7 777.9 303.1 778.8 305 C779.6 306.9 780.8 312.3 781.2 313.8"/>
<path d="M787.5 325.5 L805 317.5" stroke-width="0.6" stroke="#333"/>
<path d="M810 315.2 L825 308" stroke-width="0.6" stroke="#333"/>
<path d="M830 305.8 L850 289.2" stroke-width="0.6" stroke="#333"/>
<path d="M850 289.2 L872 302.5" stroke-width="0.6" stroke="#333"/>
<path d="M825 333.8 L843 322" stroke-width="0.6" stroke="#333"/>
<path d="M845.5 317 L866.5 305.5" stroke="#222" stroke-width="9" stroke-linecap="butt"/>
<path d="M845.5 317 L866.5 305.5" stroke="#fff" stroke-width="9.4" stroke-linecap="butt" stroke-dasharray="0.4 1.5" stroke-dashoffset="-0.8"/>
<path d="M843.8 312.5 L865.5 300.5"/>
<path d="M848.8 322 L870.5 309.5"/>
<ellipse cx="843.8" cy="318" rx="3.5" ry="2.5" transform="rotate(-25 843.8 318)"/>
<ellipse cx="870" cy="305" rx="3" ry="2.2" transform="rotate(-25 870 305)"/>
<path d="M935 276.2 L873.8 305" stroke-width="1.2" stroke="#000000"/>
<path d="M819 323 L820 321.5 L824 321.5 L825 323 L824.5 327 L823.8 333 L820.2 333 L819.5 327 Z" fill="#fff"/>
<path d="M819.5 327 L824.5 327"/>
<path d="M821.2 333 L821.2 358" stroke-width="0.45" stroke="#444"/>
<path d="M822.8 333 L822.8 358" stroke-width="0.45" stroke="#444"/>
<path d="M780 386.2 L822.5 333" stroke-width="1.2" stroke="#000000"/>
<path d="M820 393 L815 358 L822.5 355 L830 357.5 L835.5 390"/>
<ellipse cx="822.5" cy="359" rx="2.5" ry="1.2"/>
<ellipse cx="825" cy="367" rx="1.2" ry="1.2"/>
<path d="M820 393 C819.7 390.8 818.5 383.8 818 380 C817.5 376.2 817.2 371.7 817 370"/>
<path d="M810 408.8 L820 395 L830 387.5 L840 390.5 L857.5 386.2 L865 395 L870 402.5 L865.5 410.5 L840 428 L830 423 L812.5 411.8 Z" fill="#fff"/>
<path d="M812.5 411.8 L815 413.8 L830 422.5"/>
<path d="M820 395 L825 402.5 L830 397 L840 390.5"/>
<path d="M825 402.5 L822.5 410 L830 416.2"/>
<path d="M840 418.8 L860 405 L862.5 410 L842.5 423.8 Z"/>
<path d="M810 408.8 L813.8 402.5 L820 405"/>
<path d="M974 322.5 L862.5 386.2" stroke-width="1.2" stroke="#000000"/>
<path d="M885 413.8 L897.5 405.8 L964 443.8" stroke-width="1.2" stroke="#000000"/>
<path d="M940 428.8 L983.5 402.5" stroke-width="1.2" stroke="#000000"/>
<path d="M867 432 L893.8 418.8 L897.5 420 L897.5 430 L870 445 L867 442.5 Z" fill="#fff"/>
<path d="M867 432 L870 433.8 L870 445"/>
<path d="M870 433.8 L897.5 420"/>
<path d="M881.2 440 L908.8 426.2 L915 428.8 L915 440 L887.5 453.8 L881.2 451.2 Z" fill="#fff"/>
<path d="M881.2 440 L887.5 443 L887.5 453.8"/>
<path d="M887.5 443 L915 428.8"/>
<path d="M905 455 L931.2 440 L936.2 442.5 L936.2 452.5 L910 466.2 L905 465 Z" fill="#fff"/>
<path d="M905 455 L910 457 L910 466.2"/>
<path d="M910 457 L936.2 442.5"/>
<path d="M922.5 462.5 L946.2 448.8 L951.2 452.5 L951.2 465 L931.2 476.2 L922.5 472.5 Z" fill="#fff"/>
<path d="M922.5 462.5 L926.2 465 L926.2 474.5"/>
<path d="M926.2 465 L951.2 452.5"/>
<path d="M755 444.5 L728.8 458" stroke-width="1.2" stroke="#000000"/>
<path d="M830 459.5 L766.2 470" stroke-width="1.2" stroke="#000000"/>
<path d="M367.8 433.8 L408.5 445" stroke-width="1.2" stroke="#000000"/>
<path d="M369 471.2 L407.8 480" stroke-width="1.2" stroke="#000000"/>
<path d="M369.5 507.5 L394 522" stroke-width="1.2" stroke="#000000"/>
<path d="M410.2 427.5 L412.8 425.8 L417.8 425.8 L420.2 427.5 L420.2 432.5 L410.2 432.5 Z" fill="#fff"/>
<path d="M412.2 433 L412.2 458 L418.2 458 L418.2 433" fill="#fff"/>
<path d="M414.8 458.8 L414.8 478.8" stroke-width="0.45" stroke="#444"/>
<path d="M415.8 458.8 L415.8 478.8" stroke-width="0.45" stroke="#444"/>
<ellipse cx="415.2" cy="483" rx="7" ry="3.5" fill="#fff"/>
<ellipse cx="415.2" cy="481.8" rx="7" ry="3.5" fill="#fff"/>
<ellipse cx="415.2" cy="481.8" rx="3" ry="1.5"/>
<path d="M414.8 486.2 L414.8 512.5" stroke-width="0.45" stroke="#444"/>
<path d="M415.8 486.2 L415.8 512.5" stroke-width="0.45" stroke="#444"/>
<path d="M369.5 533 L374 533.8 L416 512.5 L422.8 503.8 L460.2 525 L456.5 531.2 L416 556.2 L409 561.2 L369.5 537.5 Z" fill="#fff"/>
<path d="M374 533.8 L406.5 554.5 L416 556.2"/>
<path d="M406.5 554.5 L409 561.2"/>
<path d="M406.5 554.5 L457.8 527"/>
<path d="M416 512.5 L454 533"/>
<ellipse cx="389.8" cy="533.8" rx="3.5" ry="2.2"/>
<ellipse cx="415.2" cy="533.2" rx="5.5" ry="3"/>
<ellipse cx="441" cy="533.2" rx="3.5" ry="2.2"/>
<ellipse cx="415.2" cy="548" rx="2.5" ry="1.5"/>
<ellipse cx="415.25" cy="518.75" rx="3" ry="1.5" stroke-dasharray="1.5 1"/>
<path d="M414.8 520 L414.8 547.5" stroke-width="0.45" stroke="#444"/>
<path d="M415.8 520 L415.8 547.5" stroke-width="0.45" stroke="#444"/>
<path d="M415.2 560 L415.2 606.2" stroke-width="0.6" stroke="#333" stroke-dasharray="10 3"/>
<path d="M415.2 606.2 L444 590" stroke-width="0.6" stroke="#333"/>
<path d="M449 587.5 L489 565" stroke-width="0.6" stroke="#333"/>
<path d="M494 562.5 L504 557" stroke-width="0.6" stroke="#333"/>
<path d="M509 554 L549 531.8" stroke-width="0.6" stroke="#333"/>
<path d="M554 529 L595 507.5" stroke-width="0.6" stroke="#333"/>
<path d="M626.2 493.8 L626.2 507" stroke-width="0.6" stroke="#333"/>
<path d="M626.2 493.8 L650 480" stroke-width="0.6" stroke="#333"/>
<path d="M655 477.2 L695 455.5" stroke-width="0.6" stroke="#333"/>
<path d="M700 452.8 L729.5 436.2" stroke-width="0.6" stroke="#333"/>
<path d="M729.5 375 L729.5 407.5" stroke-width="0.6" stroke="#333" stroke-dasharray="16 4"/>
<path d="M729.5 411.2 L729.5 436.2" stroke-width="0.6" stroke="#333"/>
<path d="M736.2 468.8 L717.5 479.5" stroke-width="0.6" stroke="#333"/>
<path d="M712.5 482.5 L680 501.2" stroke-width="0.6" stroke="#333"/>
<path d="M727.5 463.8 L736.2 468.8" stroke-width="0.6" stroke="#333"/>
<path d="M780 486.2 L746.2 505" stroke-width="0.6" stroke="#333"/>
<path d="M741.2 507.8 L707.5 526.2" stroke-width="0.6" stroke="#333"/>
<path d="M707.5 526.2 L688 515" stroke-width="0.6" stroke="#333"/>
<path d="M541.2 580 L613.8 539.5" stroke-width="0.6" stroke="#333" stroke-dasharray="22 5"/>
<path d="M541.2 580 L623.8 627.5" stroke-width="0.6" stroke="#333" stroke-dasharray="22 5"/>
<path d="M623.8 627.5 L527.5 684" stroke-width="0.6" stroke="#333" stroke-dasharray="40 5 10 5"/>
<path d="M667.5 656.2 L720 626.2" stroke-width="0.6" stroke="#333" stroke-dasharray="22 5"/>
<path d="M667.5 656.2 L692.5 671.2" stroke-width="0.6" stroke="#333"/>
<path d="M551.2 496.2 C552.3 494.5 552.1 490.1 557.5 485.5 C562.9 480.9 579.4 471.5 583.8 468.8"/>
<path d="M583.8 468.8 L585.5 480"/>
<path d="M551.2 496.2 L553 502.5 L590.5 523"/>
<path d="M557 498 L591.2 518 L597.5 504.5 L585.5 512.5"/>
<path d="M557 498 L585.5 481.2 L620 464 L637.5 475 L645 481.2"/>
<path d="M595 510.5 C596.2 508.6 598.3 502.8 602.5 499 C606.7 495.2 613.3 489.9 620 487.5 C626.7 485.1 636.2 483.5 642.5 484.5 C648.8 485.5 655.4 492.2 658 493.8"/>
<ellipse cx="573" cy="495" rx="2.8" ry="1.8"/>
<ellipse cx="599" cy="480" rx="2.8" ry="1.8"/>
<ellipse cx="599" cy="494.5" rx="3.8" ry="2.5"/>
<path d="M570 513 C570.6 515.2 570.8 521.8 573.8 526.2 C576.7 530.8 585.2 537.7 587.5 540"/>
<path d="M587.5 540 L630 563.8"/>
<path d="M613.8 538.8 L631.2 547.5"/>
<path d="M598.8 545 L613.8 538.8"/>
<path d="M620 508.8 L620 528.8"/>
<path d="M630.5 508.8 L630.5 528.8"/>
<ellipse cx="625.2" cy="508" rx="5.2" ry="2.5" fill="#fff"/>
<ellipse cx="625.2" cy="508" rx="2.2" ry="1.1"/>
<path d="M630.5 515 C631.7 514.6 635.1 514.1 637.5 512.5 C639.9 510.9 643.8 506.7 645 505.5"/>
<path d="M659 487.5 L659 497"/>
<path d="M670.5 487.5 L671.2 507.5"/>
<ellipse cx="664.8" cy="486.8" rx="5.8" ry="3" fill="#fff"/>
<ellipse cx="664.8" cy="486.8" rx="2.5" ry="1.2"/>
<path d="M650 517.5 L660 523.8 L680 515"/>
<path d="M671.2 507.5 L676.2 505.5 L682.5 509"/>
<path d="M680 510.5 L690 505 L692 508 L691.2 515 L686.2 518 L681.2 515 Z" fill="#fff"/>
<ellipse cx="686.2" cy="512.5" rx="2" ry="2"/>
<path d="M686.2 518 L687.5 527.5"/>
<path d="M635 546.2 L680 522.5 L687.5 527.5 L685.5 570 L680 576.2 L642.5 597.5 L631.2 595 L631.2 547.5 Z" fill="#fff"/>
<path d="M635 546.2 L637.5 549.5 L636.2 595.5"/>
<path d="M637.5 549.5 L682.5 525.5"/>
<path d="M685.5 555 L691.2 557.5 L690 565 L685.5 570"/>
<ellipse cx="660.5" cy="561.8" rx="19" ry="25.5" transform="rotate(18 660.5 561.8)" fill="#fff"/>
<ellipse cx="663.5" cy="560.5" rx="15.5" ry="22.5" transform="rotate(18 663.5 560.5)"/>
<path d="M650 576.2 C651.7 576.9 656.2 580.6 660 580 C663.8 579.4 670.4 573.8 672.5 572.5"/>
<ellipse cx="643.8" cy="554.5" rx="1.8" ry="1.8"/>
<ellipse cx="678" cy="534.5" rx="1.8" ry="1.8"/>
<ellipse cx="643.8" cy="588" rx="1.8" ry="1.8"/>
<ellipse cx="678" cy="567.5" rx="1.8" ry="1.8"/>
<path d="M643.8 554.5 L695 583.8" stroke-width="0.45" stroke="#444"/>
<path d="M717.5 565.6 C715.4 565.8 709 565.1 705 566.9 C701 568.6 696.2 572.2 693.8 576.2 C691.2 580.3 690.4 586.7 690 591.2 C689.6 595.8 690.2 600.7 691.2 603.8 C692.3 606.8 695.4 608.4 696.2 609.4"/>
<path d="M718.8 568.8 C716.8 569 710.5 568.4 706.9 570 C703.2 571.6 699.1 574.5 696.9 578.1 C694.6 581.8 693.9 587.8 693.5 591.9 C693.1 595.9 693.9 599.9 694.8 602.5 C695.6 605.1 698.1 606.7 698.8 607.5"/>
<path d="M697.5 586.2 C697.1 590.6 694.6 605.5 695 612.5 C695.4 619.5 697.7 624.2 700 628.1 C702.3 632.1 707.3 634.9 708.8 636.2"/>
<path d="M732.5 559.4 C736 558.8 739.2 560.9 742.5 562.5 C745.8 564.1 749.9 565.4 752.5 568.8 C755.1 572.1 757.5 576.9 758.1 582.5 C758.8 588.1 758.4 596.2 756.2 602.5 C754.1 608.8 749 615.2 745 620 C741 624.8 736.5 628.3 732.5 631.2 C728.5 634.2 724.8 636.6 721.2 637.5 C717.7 638.4 714.2 638.1 711.2 636.9 C708.3 635.6 705.5 633.6 703.8 630 C702 626.4 700.8 620.4 700.6 615 C700.4 609.6 700.9 603.5 702.5 597.5 C704.1 591.5 706.9 584 710 578.8 C713.1 573.5 717.5 569.5 721.2 566.2 C725 563 729 560 732.5 559.4 Z" fill="#fff"/>
<path d="M732.5 559.4 L728.1 558.5 L717.5 565.6"/>
<path d="M728.1 558.5 L721.2 566.2"/>
<path d="M711.2 636.9 C710.5 636.6 708.8 636.5 706.9 635 C705 633.5 701.1 629.3 700 628.1"/>
<ellipse cx="713.1" cy="596.2" rx="3.8" ry="6.2" transform="rotate(25 713.1 596.2)"/>
<path d="M722.4 582.9 L734.2 588.6 L737 582.7 L725.1 577.1" fill="#fff"/>
<ellipse cx="735.6" cy="585.6" rx="1.8" ry="3.2" transform="rotate(25 735.6 585.6)" fill="#fff"/>
<ellipse cx="736" cy="585.6" rx="0.8" ry="1.6" transform="rotate(25 736 585.6)"/>
<path d="M706.7 617.9 L718.6 623.6 L721.4 617.7 L709.5 612.1" fill="#fff"/>
<ellipse cx="720" cy="620.6" rx="1.8" ry="3.2" transform="rotate(25 720 620.6)" fill="#fff"/>
<ellipse cx="720.4" cy="620.6" rx="0.8" ry="1.6" transform="rotate(25 720.4 620.6)"/>
<ellipse cx="735" cy="604.4" rx="14.4" ry="20" transform="rotate(22 735 604.4)" fill="#fff"/>
<ellipse cx="736" cy="604.4" rx="11.9" ry="17.5" transform="rotate(22 736 604.4)"/>
<ellipse cx="736.5" cy="604" rx="9.4" ry="14.4" transform="rotate(22 736.5 604)"/>
<path d="M727.5 608.8 C727.9 608.3 729.2 606.2 730 606.2 C730.8 606.2 732.1 608.3 732.5 608.8"/>
<path d="M730 597.5 C730.8 597.1 733.5 594.6 735 595 C736.5 595.4 738.5 598.3 738.8 600 C739 601.7 736.7 604.2 736.2 605"/>
<path d="M735 620 C736.2 619.2 740.6 616.7 742.5 615 C744.4 613.3 745.6 610.8 746.2 610"/>
<path d="M748 579.2 L759.9 584.8 L762.6 578.9 L750.8 573.3" fill="#fff"/>
<ellipse cx="761.2" cy="581.9" rx="1.8" ry="3.2" transform="rotate(25 761.2 581.9)" fill="#fff"/>
<ellipse cx="761.6" cy="581.9" rx="0.8" ry="1.6" transform="rotate(25 761.6 581.9)"/>
<path d="M748.6 609.8 L760.5 615.4 L763.3 609.6 L751.4 603.9" fill="#fff"/>
<ellipse cx="761.9" cy="612.5" rx="1.8" ry="3.2" transform="rotate(25 761.9 612.5)" fill="#fff"/>
<ellipse cx="762.2" cy="612.5" rx="0.8" ry="1.6" transform="rotate(25 762.2 612.5)"/>
<path d="M722.4 634.2 L734.2 639.8 L737 633.9 L725.1 628.3" fill="#fff"/>
<ellipse cx="735.6" cy="636.9" rx="1.8" ry="3.2" transform="rotate(25 735.6 636.9)" fill="#fff"/>
<ellipse cx="736" cy="636.9" rx="0.8" ry="1.6" transform="rotate(25 736 636.9)"/>
<path d="M680 574.5 L747.5 612.2" stroke-width="0.45" stroke="#444"/>
<path d="M680 575.5 L746.2 612.8" stroke-width="0.45" stroke="#444"/>
<path d="M762.5 620.2 L783.8 631.9" stroke-width="0.6" stroke="#333"/>
<path d="M737.5 639 L750 646.5" stroke-width="0.6" stroke="#333"/>
<path d="M753.1 648.5 L766.2 656.2" stroke-width="0.6" stroke="#333"/>
<path d="M770 658.5 L792.5 672" stroke-width="0.6" stroke="#333"/>
<path d="M727.5 622.5 L717.5 628.5" stroke-width="0.6" stroke="#333"/>
<path d="M714.4 630.2 L692.5 642.8" stroke-width="0.6" stroke="#333"/>
<path d="M689.4 644.6 L680 650" stroke-width="0.6" stroke="#333"/>
<path d="M782.5 636.2 L786.2 628.8 L793.8 626 L800 630 L803.8 637.5 L801.9 645 L793.1 648.8 L784.4 643.1 Z" fill="#fff"/>
<path d="M786.2 628.8 L788.8 636.2 L784.4 643.1"/>
<path d="M788.8 636.2 L797.5 633.1 L800 630"/>
<ellipse cx="796.9" cy="640" rx="6.2" ry="7.2" transform="rotate(15 796.9 640)" fill="#fff"/>
<ellipse cx="798.1" cy="640.6" rx="3.8" ry="4.8" transform="rotate(15 798.1 640.6)"/>
<path d="M791.2 577 L766.2 580" stroke-width="1.2" stroke="#000000"/>
<path d="M688.8 626.2 L607.5 673.8" stroke-width="1.2" stroke="#000000"/>
<ellipse cx="795" cy="640" rx="9" ry="9" fill="#fff"/>
<path d="M783 633.8 L787 628 L795 627 L800.5 631.2 L802 638.8 L796.2 646.2 L788.8 647 L783.8 642 Z" fill="#fff"/>
<ellipse cx="798" cy="640" rx="5.5" ry="6.5" transform="rotate(10 798 640)" fill="#fff"/>
<path d="M787 628 L790 636.2 L788.8 647"/>
<path d="M790 636.2 L797.5 633.8"/>
<path d="M698.8 679.5 L689.5 674 L691.5 670 L700.5 675" fill="#fff"/>
<ellipse cx="690.5" cy="672" rx="1.2" ry="2.2" transform="rotate(-25 690.5 672)" fill="#fff"/>
<ellipse cx="700.5" cy="677.5" rx="2" ry="4.2" transform="rotate(-25 700.5 677.5)" fill="#fff"/>
<path d="M700 674 L704.5 673 L708.5 676 L709 681 L705 684.5 L700.5 683 L698 679.5 Z" fill="#fff"/>
<ellipse cx="704.5" cy="679" rx="2.5" ry="3.2" transform="rotate(-20 704.5 679)"/>
<path d="M704.5 673 L702.5 678 L705 684.5"/>
<path d="M710.2 456.9 L712.2 453.1 L716 452.5 L718.8 455 L718.8 460 L716 463.5 L712.5 462.8 L710.5 460 Z" fill="#fff"/>
<path d="M712.2 453.1 L714 456.9 L712.5 462.8"/>
<path d="M714 456.9 L718.8 455"/>
<ellipse cx="717.9" cy="457.8" rx="2.5" ry="5.2" transform="rotate(22 717.9 457.8)" fill="#fff"/>
<path d="M718.8 454.5 L727.8 459 L726.2 465.2 L717.5 461" fill="#fff"/>
<path d="M727.8 459 L730 462.8 L729 465.5 L726.2 465.2" fill="#fff"/>
<path d="M729.4 465 L736.9 469.4" stroke-width="0.6" stroke="#333"/>
<path d="M755.6 469 L757.8 468.1 L759.4 470.2 L762.5 470.2 L765 472.5 L768.1 474 L768.5 476.5 L766.2 477.5 L763.1 475.6 L760 475 L757.8 473.1 L756 471.5 Z" fill="#fff"/>
<path d="M759.4 470.2 L758.1 473.1"/>
<path d="M762.5 470.2 L761 474.8"/>
<path d="M765 472.5 L763.5 475.8"/>
<path d="M768.8 476.9 L790.2 490.2" stroke-width="0.6" stroke="#333"/>
<path d="M656.2 701.2 L691.2 680.5" stroke-width="1.2" stroke="#000000"/>
<path d="M400 300.5 C404.2 300.8 414.6 300.9 425 302.5 C435.4 304.1 452.1 307.1 462.5 310 C472.9 312.9 477.1 315.7 487.5 320 C497.9 324.3 512.9 329.8 525 336 C537.1 342.2 551.8 351.4 560 357.5 C568.2 363.6 571.7 370 574 372.5"/>
<path d="M447 338 C449.2 339.1 451.2 340.4 460 344.5 C468.8 348.6 490 357.2 500 362.5 C510 367.8 514.6 372.2 520 376 C525.4 379.8 528.3 381 532.5 385 C536.7 389 541.7 394.6 545 400 C548.3 405.4 549.2 409.6 552.5 417.5 C555.8 425.4 561.1 438.8 565 447.5 C568.9 456.2 574.2 466.2 576 470"/>
<ellipse cx="464.5" cy="330" rx="2.5" ry="1.6"/>
<ellipse cx="541" cy="374.5" rx="2.5" ry="1.6"/>
<path d="M460 344.5 C460.2 346.7 458.9 353.2 461 357.5 C463.1 361.8 468.1 367.1 472.5 370 C476.9 372.9 485 374.2 487.5 375"/>
<path d="M487.5 375 L487.5 364"/>
<path d="M447 392.8 C450.8 394.5 463 399.3 470 403 C477 406.7 480.8 410.5 489 415 C497.2 419.5 512.2 426.2 519 430 C525.8 433.8 526.1 433.3 530 437.5 C533.9 441.7 538.8 447.9 542.5 455 C546.2 462.1 550 474.2 552.5 480 C555 485.8 556.7 488.3 557.5 490"/>
<path d="M532.5 386 L533.8 400 L545 407.5"/>
<ellipse cx="541.2" cy="374.2" rx="2.2" ry="1.5"/>
<ellipse cx="595" cy="351.2" rx="7.5" ry="9.5" transform="rotate(-15 595 351.2)" fill="#fff"/>
<path d="M582.5 347 L595 342"/>
<path d="M583.8 368 L597.5 360.5"/>
<ellipse cx="599.5" cy="350" rx="4.5" ry="5.5" transform="rotate(-15 599.5 350)" fill="#fff"/>
<ellipse cx="601.2" cy="349.5" rx="2.5" ry="3.2" transform="rotate(-15 601.2 349.5)" fill="#fff"/>
<ellipse cx="580" cy="358" rx="9.5" ry="11.5" transform="rotate(-15 580 358)" fill="#fff"/>
<ellipse cx="580" cy="358" rx="7" ry="8.8" transform="rotate(-15 580 358)"/>
<ellipse cx="579.5" cy="358.5" rx="3.5" ry="4.5" transform="rotate(-15 579.5 358.5)"/>
<path d="M581.2 375 L602.5 422.5 L622.5 413.8 L602.5 366.2" fill="#fff"/>
<path d="M581.2 375 C582 374.4 583.2 372.6 585.5 371.2 C587.8 369.9 592.2 367.8 595 367 C597.8 366.2 601.2 366.4 602.5 366.2"/>
<path d="M582.5 378 C583.3 377.3 585.2 375.1 587.5 373.8 C589.8 372.4 593.6 370.8 596.2 370 C598.9 369.2 602.3 369 603.5 368.8"/>
<path d="M602.5 422.5 C603.8 422.4 607.3 422.8 610 422 C612.7 421.2 616.7 418.9 618.8 417.5 C620.8 416.1 621.9 414.4 622.5 413.8"/>
<path d="M603.8 423 L618.8 458"/>
<path d="M623 414.5 L638 450"/>
<path d="M603.8 423 L618.8 458 L638 450 L623 414.5" fill="#fff" stroke="none"/>
<path d="M603.8 423 L618.8 458"/>
<path d="M623 414.5 L638 450"/>
<path d="M617 453 C618.3 453.1 621.8 454.9 625 453.8 C628.2 452.6 634.4 447.5 636.2 446.2"/>
<path d="M618 455.5 C619.4 455.6 623 457.4 626.2 456.2 C629.5 455.1 635.6 450 637.5 448.8"/>
<path d="M618.8 458 C620.2 458.1 624.3 460.1 627.5 458.8 C630.7 457.4 636.2 451.5 638 450"/>
<path d="M592.5 425 L598 422.5 L620 462.5 L625 472.5 L637.5 475"/>
<path d="M592.5 425 L593.8 430 L602.5 436.2"/>
<ellipse cx="642.5" cy="463" rx="7.5" ry="9" transform="rotate(-15 642.5 463)" fill="#fff"/>
<path d="M626.2 457 L640 454.5"/>
<path d="M633.8 473.8 L647.5 470.5"/>
<ellipse cx="630" cy="465.5" rx="7.5" ry="9" transform="rotate(-15 630 465.5)" fill="#fff"/>
<ellipse cx="630" cy="465.5" rx="5" ry="6.2" transform="rotate(-15 630 465.5)"/>
<path d="M91.2 509.5 L135 534.5" stroke-width="1.2" stroke="#000000"/>
<path d="M91.2 562 L128.8 562.5" stroke-width="1.2" stroke="#000000"/>
<path d="M91.2 619.5 L134.5 628" stroke-width="1.2" stroke="#000000"/>
<path d="M172.5 700 L218.8 665" stroke-width="1.2" stroke="#000000"/>
<path d="M312.5 590 L281.2 608.8" stroke-width="1.2" stroke="#000000"/>
<path d="M136.2 513.8 L137.5 512 L142 512 L143.2 513.8 L143.2 517 L136.2 517 Z" fill="#fff"/>
<path d="M137 517.5 L137 551.2 L142.5 551.2 L142.5 517.5" fill="#fff"/>
<path d="M139.5 552.5 L139.5 561.2" stroke-width="0.45" stroke="#444"/>
<path d="M140.5 552.5 L140.5 561.2" stroke-width="0.45" stroke="#444"/>
<ellipse cx="140" cy="564" rx="7.5" ry="3.2" fill="#fff"/>
<ellipse cx="140" cy="563" rx="7.5" ry="3.2" fill="#fff"/>
<ellipse cx="140" cy="563" rx="3" ry="1.2"/>
<path d="M139.5 566.2 L139.5 585" stroke-width="0.45" stroke="#444"/>
<path d="M140.5 566.2 L140.5 585" stroke-width="0.45" stroke="#444"/>
<path d="M140 616.2 L140 626.2" stroke-width="0.45" stroke="#444"/>
<ellipse cx="140.5" cy="628" rx="6.5" ry="2.5" fill="#fff"/>
<path d="M135 628.8 L136 633 L140.5 635 L145.5 633 L146.5 628.8" fill="#fff"/>
<ellipse cx="140.5" cy="628" rx="3" ry="1.2"/>
<path d="M138 630 L138.5 634"/>
<path d="M143 630 L143 634.2"/>
<path d="M126.2 590 C127.3 588.8 128.8 585.6 132.5 582.5 C136.2 579.4 144.2 573.3 148.8 571.2 C153.3 569.2 156.9 569.2 160 570 C163.1 570.8 166.2 575.2 167.5 576.2"/>
<path d="M126.2 590 C126.1 591.7 125.3 597.1 125.5 600 C125.7 602.9 126.3 605.3 127.5 607.5 C128.7 609.7 130 611.7 132.5 613 C135 614.3 140.1 616 142.5 615.5 C144.9 615 146.2 610.9 147 610"/>
<path d="M126.2 600 C127.7 600.8 132.3 603.8 135 605 C137.7 606.2 140.5 606.8 142.5 607.5 C144.5 608.2 146.2 609.2 147 609.5"/>
<ellipse cx="140.5" cy="585.5" rx="2.5" ry="1.2"/>
<ellipse cx="157" cy="575.5" rx="6.8" ry="3.8" fill="#fff"/>
<ellipse cx="157" cy="573.2" rx="4.5" ry="2.8" fill="#fff"/>
<ellipse cx="157" cy="572" rx="2.2" ry="1.5"/>
<path d="M153 591.2 L158.8 587.5 L163 592.5 L163.8 600 L156.2 601.2 L152.5 596.2 Z" fill="#333"/>
<path d="M147 610 C147.5 609 147.8 605.4 150 603.8 C152.2 602.1 157.1 601 160 600 C162.9 599 166.2 597.9 167.5 597.5"/>
<ellipse cx="175.5" cy="586.2" rx="10.5" ry="6.8" transform="rotate(10 175.5 586.2)" fill="#fff"/>
<ellipse cx="175.5" cy="586.8" rx="7.5" ry="4.8" transform="rotate(10 175.5 586.8)"/>
<ellipse cx="175" cy="586.5" rx="1.5" ry="1.5"/>
<path d="M166.2 580 C167.7 579.6 171.9 577.4 175 577.5 C178.1 577.6 181.7 578.6 185 580.5 C188.3 582.4 191.9 584.7 195 588.8 C198.1 592.8 201.9 600.7 203.8 605 C205.6 609.3 205.8 612.9 206.2 614.5"/>
<path d="M185 591.2 C185.8 591.9 188.5 593.1 190 595 C191.5 596.9 193.1 601.2 193.8 602.5"/>
<ellipse cx="154.5" cy="615" rx="8" ry="10.5" transform="rotate(-10 154.5 615)" fill="#fff"/>
<ellipse cx="155" cy="615.5" rx="5.5" ry="7.8" transform="rotate(-10 155 615.5)"/>
<ellipse cx="154.5" cy="615" rx="1.5" ry="1.5"/>
<path d="M147.5 622.5 C149.6 623.8 156.2 628 160 630.5 C163.8 633 166.2 636.2 170 637.5 C173.8 638.8 179.8 638.6 182.5 638 C185.2 637.4 185.6 634.5 186.2 633.8"/>
<path d="M162.5 607.5 C163.8 607.9 167.7 608.3 170 610 C172.3 611.7 176.2 615.2 176.2 617.5 C176.2 619.8 171.7 623.3 170 623.8 C168.3 624.2 166.9 620.6 166.2 620"/>
<path d="M165 602.5 C166.2 603.3 170.4 605.4 172.5 607.5 C174.6 609.6 176.7 613.8 177.5 615"/>
<path d="M177.5 620 C177.9 621.7 178.8 627.1 180 630 C181.2 632.9 184.2 636.2 185 637.5"/>
<path d="M206.2 612.5 C204.4 612.7 198.3 612.3 195 613.8 C191.7 615.2 188.1 618.5 186.2 621.2 C184.4 624 183.8 627.3 183.8 630 C183.8 632.7 185.8 636.2 186.2 637.5"/>
<path d="M206.2 612.5 L232.5 634.5"/>
<path d="M186.2 637.5 L212.5 656.2"/>
<ellipse cx="187" cy="633.8" rx="1.8" ry="1.8"/>
<ellipse cx="222.5" cy="645.5" rx="6.5" ry="12.5" transform="rotate(33 222.5 645.5)" fill="#fff"/>
<path d="M220 636.2 C219.2 637.3 216.2 640 215 642.5 C213.8 645 213 648.8 213 651.2 C213 653.7 214.7 656 215 657"/>
<path d="M232.5 638 L241.2 646.2"/>
<path d="M216.2 657.5 L226.2 665"/>
<path d="M226.2 665 C226 664.2 224 662.5 225 660 C226 657.5 229.8 652.3 232.5 650 C235.2 647.7 237.5 646.6 241.2 646.2 C245 645.9 250.6 647 255 648 C259.4 649 265.4 651.8 267.5 652.5"/>
<path d="M226.2 665 C226.9 667.2 228.3 673 230 678 C231.7 683 234 691.1 236.2 695 C238.5 698.9 240.2 699.6 243.8 701.2 C247.3 702.9 252.7 702.9 257.5 705 C262.3 707.1 270 712.3 272.5 713.8"/>
<ellipse cx="265" cy="661" rx="10.5" ry="6.8" transform="rotate(10 265 661)" fill="#fff"/>
<ellipse cx="265" cy="661.5" rx="7.5" ry="4.8" transform="rotate(10 265 661.5)"/>
<ellipse cx="265" cy="661.5" rx="1.5" ry="1.5"/>
<ellipse cx="242" cy="687.5" rx="6.5" ry="10.5" transform="rotate(-10 242 687.5)" fill="#fff"/>
<ellipse cx="242.5" cy="688" rx="4.5" ry="7.5" transform="rotate(-10 242.5 688)"/>
<ellipse cx="243" cy="688.8" rx="1.5" ry="1.5"/>
<path d="M236.2 670 C237.3 669.2 240.2 665.3 242.5 665 C244.8 664.7 248.3 666.3 250 668 C251.7 669.7 253.3 673 252.5 675 C251.7 677 246.2 679.2 245 680"/>
<path d="M252.5 675 C253.8 675.8 256.7 679 260 680 C263.3 681 269.2 681.9 272.5 681.2 C275.8 680.6 278.8 677.1 280 676.2"/>
<path d="M255 648 C258.3 650.4 269.8 657.6 275 662.5 C280.2 667.4 284.4 675 286.2 677.5"/>
<path d="M277.5 662.5 C279.6 662.9 285.8 662.9 290 665 C294.2 667.1 300.4 673.3 302.5 675"/>
<ellipse cx="265" cy="688" rx="3" ry="1.5" transform="rotate(15 265 688)"/>
<path d="M250 690 C251.7 691.2 256.2 695.8 260 697.5 C263.8 699.2 270.4 699.6 272.5 700"/>
<path d="M293.8 674.2 L303.8 680 L323.8 691.2"/>
<path d="M282.5 687.5 C281.8 689.4 278.5 694.8 278 698.8 C277.5 702.7 279 709.2 279.2 711.2"/>
<path d="M278.8 712.2 L301.2 725.2"/>
<ellipse cx="311.9" cy="706.9" rx="12.5" ry="19" transform="rotate(23 311.9 706.9)" fill="#fff"/>
<path d="M303 691.2 C302.3 693.1 299.3 698.3 298.8 702.5 C298.2 706.7 298.7 712.6 299.5 716.2 C300.3 719.9 303 723.1 303.8 724.5"/>
<ellipse cx="311.9" cy="708.8" rx="5.5" ry="8.2" transform="rotate(23 311.9 708.8)" fill="#666"/>
<path d="M282.5 680 L295 676.2" stroke-width="1.6"/>
<path d="M261.2 612.5 L265 609.5 L272.5 610 L272.5 627 L265.5 628 L260.8 621.2 Z" fill="#fff"/>
<ellipse cx="273.8" cy="619.5" rx="7.2" ry="9.5" transform="rotate(-10 273.8 619.5)" fill="#fff"/>
<ellipse cx="273.2" cy="620" rx="2.8" ry="3.8" transform="rotate(-10 273.2 620)"/>
<path d="M265 609.5 L267 618.8 L265.5 628"/>
<path d="M278 623 L286.2 626.5" stroke-width="0.6" stroke="#333"/>
<path d="M286.2 626.5 L286.2 650" stroke-width="0.6" stroke="#333"/>
<path d="M286.2 655 L286.2 662.5" stroke-width="0.6" stroke="#333"/>
<path d="M286.2 666.2 L286.2 677.5" stroke-width="0.6" stroke="#333"/>
<path d="M281.2 770 L351.2 745" stroke-width="1.2" stroke="#000000"/>
<path d="M312.5 708 L323.8 714.5" stroke-width="0.6" stroke="#333"/>
<path d="M323.8 713 L329.5 710.5 L332.5 715.5 L327 722 L323 719.5 Z" fill="#fff"/>
<path d="M335 713 L377.5 738.8 L370 752 L328 724.5 Z" fill="#4a4a4a"/>
<path d="M333.6 715.3 L376.1 741.1" stroke-width="0.4" stroke="#ccc"/>
<path d="M332.1 717.7 L374.6 743.4" stroke-width="0.4" stroke="#ccc"/>
<path d="M330.7 720 L373.2 745.8" stroke-width="0.4" stroke="#ccc"/>
<path d="M329.3 722.4 L371.8 748.1" stroke-width="0.4" stroke="#ccc"/>
<path d="M377.5 738.8 L381.2 741.2 L373.8 753 L370 752" fill="#fff"/>
<path d="M380 743 L390 748.8 L387 755.5 L376.2 750" fill="#fff"/>
<path d="M390 748.8 L393.8 751.2 L392.5 755.5 L387 755.5" fill="#fff"/>
<ellipse cx="390.5" cy="752" rx="1.5" ry="3" transform="rotate(-30 390.5 752)"/>
<path d="M392.5 753 L400 758" stroke-width="0.6" stroke="#333"/>
<path d="M400 758 L427.5 742" stroke-width="0.6" stroke="#333"/>
<path d="M432.5 739.2 L442.5 733.5" stroke-width="0.6" stroke="#333"/>
<path d="M447.5 730.8 L487.5 707.5" stroke-width="0.6" stroke="#333"/>
<path d="M492.5 704.5 L502.5 698.8" stroke-width="0.6" stroke="#333"/>
<path d="M507.5 696 L544 674.5" stroke-width="0.6" stroke="#333"/>
<path d="M1032.6 965.1 C1031 964.6 1027.3 963.3 1023.1 962 C1018.9 960.7 1012.5 958.9 1007.2 957.2 C1001.9 955.5 996.6 953.9 991.3 951.6 C986 949.4 980.7 946.6 975.4 943.7 C970.1 940.8 964.8 937.6 959.5 934.1 C954.2 930.6 948.9 927.1 943.6 923 C938.3 918.9 933 914.4 927.7 909.5 C922.4 904.6 916.6 899.2 911.8 893.6 C907 888 902.5 882.7 899.1 876.1 C895.7 869.5 892.8 861.9 891.1 853.8 C889.4 845.6 889.2 835.9 889.1 827.2 C889 818.5 889.4 811 890.7 801.7 C892 792.4 894.4 781 897 771.5 C899.6 762 903.1 753 906.6 744.5 C910.1 736 913.7 728.1 917.7 720.7 C921.7 713.3 927.5 704.7 930.4 700 C933.3 695.3 930.9 697.9 935 692.5 C939.1 687.1 947.5 675.6 955 667.5 C962.5 659.4 971.7 650.7 980 643.8 C988.3 636.8 996.7 630.7 1005 626 C1013.3 621.3 1023.5 617.9 1030 615.5 C1036.5 613.1 1039.7 612.3 1044 611.4 C1048.3 610.5 1051.4 610 1056 610 C1060.6 610 1066.5 610.6 1071.8 611.5 C1077.1 612.4 1082.4 613.7 1087.7 615.4 C1093 617.1 1098.3 619.4 1103.6 621.8 C1108.9 624.2 1114.2 627.1 1119.5 629.7 C1124.8 632.4 1130.1 634.8 1135.4 637.7 C1140.7 640.6 1146 643.9 1151.3 647.2 C1156.6 650.5 1161.9 653.9 1167.2 657.6 C1172.5 661.3 1177.7 665.1 1183 669.5 C1188.3 673.9 1195.8 680.8 1199 683.8 C1202.2 686.8 1201.5 686.7 1202 687.3"/>
<path d="M1032.6 965.1 C1031 964.3 1026.8 963 1023.1 960.4 C1019.4 957.8 1014.1 953.7 1010.4 949.2 C1006.7 944.7 1003.4 938.8 1000.8 933.3 C998.1 927.8 996.1 922 994.5 915.9 C992.9 909.8 992 903.2 991.3 896.8 C990.6 890.4 990.2 884.9 990.5 877.7 C990.8 870.5 991.5 860.9 992.9 853.8 C994.3 846.7 996.2 842.7 998.8 835.1 C1001.4 827.5 1004.6 817.4 1008.3 808.1 C1012 798.8 1016.2 788.8 1021 779.5 C1025.8 770.2 1031.1 761.3 1036.9 752.5 C1042.7 743.7 1050.2 733.7 1056 726.7 C1061.8 719.8 1066.5 715.6 1071.8 710.8 C1077.1 706 1082.4 702 1087.7 698 C1093 694 1098.3 690.4 1103.6 687 C1108.9 683.6 1114.2 679.9 1119.5 677.4 C1124.8 674.9 1130.1 673.3 1135.4 671.9 C1140.7 670.5 1146 669.7 1151.3 669.2 C1156.6 668.8 1161.9 668.6 1167.2 669.2 C1172.5 669.8 1177.7 670.3 1183 672.7 C1188.3 675.1 1194.8 679.8 1199 683.8 C1203.2 687.8 1205.6 691.7 1208.5 696.5 C1211.4 701.3 1214.4 706.8 1216.5 712.4 C1218.6 718 1220.2 724.6 1221.2 730 C1222.2 735.4 1222.6 739.7 1222.8 745 C1223 750.3 1222.9 756.2 1222.5 762 C1222.1 767.8 1221.9 772 1220.6 780 C1219.3 788 1217.3 800.1 1214.6 810.1 C1211.9 820.1 1208.6 830.5 1204.6 840.2 C1200.6 849.9 1195.9 859.4 1190.5 868.4 C1185.1 877.4 1179.1 885.8 1172.4 894.5 C1165.7 903.2 1158.4 912.6 1150.4 920.6 C1142.4 928.6 1133.3 936.4 1124.3 942.7 C1115.2 949.1 1103.5 955.1 1096.1 958.7 C1088.7 962.3 1085.5 962.8 1080 964.3 C1074.5 965.8 1068.3 966.9 1062.8 967.5 C1057.3 968.1 1051.9 968.4 1046.9 968 C1041.9 967.6 1035 965.6 1032.6 965.1"/>
<path d="M1139 734.5 C1132.8 734.9 1125.7 736.6 1119 739.5 C1112.3 742.4 1105.7 746.2 1099 752 C1092.3 757.8 1085.7 765.3 1079 774.5 C1072.3 783.7 1064.4 796.2 1059 807 C1053.6 817.8 1049.3 829.9 1046.5 839.5 C1043.7 849.1 1042.4 857 1042 864.5 C1041.6 872 1042 878.7 1044 884.5 C1046 890.3 1049.8 895.5 1054 899.5 C1058.2 903.5 1063.6 906.6 1069 908.2 C1074.4 909.9 1081.3 910 1086.5 909.5 C1091.7 909 1094.6 907.7 1100.2 905.5 C1105.8 903.3 1113.5 900.7 1120.2 896.5 C1126.9 892.3 1134.3 886.4 1140.3 880.4 C1146.3 874.4 1151.4 868.3 1156.4 860.3 C1161.4 852.3 1166.7 841.6 1170.4 832.2 C1174.1 822.8 1176.7 812.8 1178.5 804.1 C1180.3 795.4 1181.2 786.5 1181.5 780 C1181.8 773.5 1181.3 769.2 1180.5 765 C1179.7 760.8 1178.4 757.9 1176.5 754.5 C1174.6 751.1 1172.3 747.4 1169 744.5 C1165.7 741.6 1161.5 738.7 1156.5 737 C1151.5 735.3 1145.2 734.1 1139 734.5 Z"/>
<path d="M1139 736.5 C1135.8 737.3 1126.3 738.6 1120 741.5 C1113.7 744.4 1107.5 748.2 1101 754 C1094.5 759.8 1087.7 767.4 1081 776.5 C1074.3 785.6 1066.4 797.8 1061 808.5 C1055.6 819.2 1051.5 831.2 1048.7 840.5 C1045.9 849.8 1044.6 857.3 1044.2 864.5 C1043.8 871.7 1044.3 878 1046.2 883.5 C1048.1 889 1051.8 894 1055.7 897.8 C1059.6 901.5 1067.2 904.6 1069.5 906"/>
<path d="M1132 740.5 C1128.7 741.8 1118.2 744.4 1112 748 C1105.8 751.6 1100.7 755.8 1095 762 C1089.3 768.2 1083.5 776.3 1078 785 C1072.5 793.7 1066.5 804.5 1062 814 C1057.5 823.5 1053.6 833.5 1051 842 C1048.4 850.5 1046.9 858.3 1046.5 865 C1046.1 871.7 1046.7 876.9 1048.5 882 C1050.3 887.1 1056 893.2 1057.5 895.5"/>
<path d="M1114 747 C1114.4 750.8 1116.9 761.2 1116.5 769.5 C1116.1 777.8 1114.4 788.2 1111.5 797 C1108.6 805.8 1103.6 814.9 1099 822 C1094.4 829.1 1089.4 834.5 1084 839.5 C1078.6 844.5 1072.3 848.9 1066.5 852 C1060.7 855.1 1051.9 857 1049 858"/>
<path d="M1112 748 C1112.4 751.6 1114.9 761.5 1114.5 769.5 C1114.1 777.5 1112.4 787.5 1109.5 796 C1106.6 804.5 1101.5 813.6 1097 820.5 C1092.5 827.4 1087.8 832.6 1082.5 837.5 C1077.2 842.4 1071 847 1065.5 850 C1060 853 1052.2 854.6 1049.5 855.5"/>
<path d="M1051.5 862 C1051.9 864.5 1051.9 872.4 1054 877 C1056.1 881.6 1059.7 886.6 1064 889.5 C1068.3 892.4 1077.3 893.7 1080 894.5"/>
<path d="M1139 742 C1141.1 742.8 1148 744.3 1151.5 747 C1155 749.7 1158.6 756.2 1160 758"/>
<path d="M1122 744 L1125.8 756.5 L1128 757.6 L1131.5 756 L1132 753.5 L1128.5 742"/>
<path d="M1161.5 538.8 L1090.2 613" stroke-width="1.2" stroke="#000000"/>
<path d="M1203.5 608 L1134.5 742.5" stroke-width="1.2" stroke="#000000"/>
<path d="M1229 648 L1170.2 748.2" stroke-width="1.2" stroke="#000000"/>
<path d="M1207.8 922.5 L1182.8 948.2" stroke-width="1.2" stroke="#000000"/>
<path d="M1055.2 823.2 L1079 837" stroke-width="0.6" stroke="#333"/>
<path d="M1085.2 840.2 L1136.5 869.5" stroke-width="0.6" stroke="#333"/>
<path d="M1142.8 873.2 L1169 888.2" stroke-width="0.6" stroke="#333"/>
<path d="M1175.2 891.5 L1206.5 909.5" stroke-width="0.6" stroke="#333"/>
<path d="M1206.5 912.5 L1209.5 907.5 L1216 907 L1220.5 911.5 L1220 918.2 L1214.5 921.5 L1209 919 Z" fill="#fff"/>
<ellipse cx="1214.5" cy="914.5" rx="4" ry="4.8" transform="rotate(15 1214.5 914.5)"/>
<path d="M1209.5 907.5 L1211 914 L1209 919"/>
<path d="M823.8 735 L780 765" stroke-width="1.2" stroke="#000000"/>
<path d="M780 664.5 L795 672.5" stroke-width="0.6" stroke="#333"/>
<path d="M802.5 676.2 L826.2 688.8" stroke-width="0.6" stroke="#333"/>
<path d="M888.2 620.8 C884.9 621.6 874.5 622.4 868.2 625.8 C862 629.1 856.2 634.9 850.8 640.8 C845.3 646.6 839.9 653.7 835.8 660.8 C831.6 667.8 828 675.8 825.8 683.2 C823.5 690.8 822.2 699.1 822 705.8 C821.8 712.4 822.8 717.8 824.5 723.2 C826.2 728.7 828.5 734.3 832 738.2 C835.5 742.2 841 745.5 845.8 747 C850.5 748.5 858.2 747 860.8 747" stroke-width="1.0"/>
<path d="M890 620 C895.8 619.8 900.6 621.5 905 623.8 C909.4 626 913.4 629.4 916.2 633.8 C919.1 638.1 921 644 922 650 C923 656 923.5 662.5 922.5 670 C921.5 677.5 919.6 686.7 916.2 695 C912.9 703.3 908.1 712.9 902.5 720 C896.9 727.1 889.2 733.1 882.5 737.5 C875.8 741.9 868.3 744.8 862.5 746.2 C856.7 747.7 852.3 747.7 847.5 746.2 C842.7 744.8 837.3 741.5 833.8 737.5 C830.2 733.5 827.9 727.9 826.2 722.5 C824.6 717.1 823.5 711.7 823.8 705 C824 698.3 825.2 690 827.5 682.5 C829.8 675 833.3 667.1 837.5 660 C841.7 652.9 847.1 645.8 852.5 640 C857.9 634.2 863.8 628.3 870 625 C876.2 621.7 884.2 620.2 890 620 Z" fill="#fff"/>
<path d="M897.5 652.5 C901.7 652.7 906.7 654.2 910 657.5 C913.3 660.8 916.7 666.2 917.5 672.5 C918.3 678.8 917.5 687.9 915 695 C912.5 702.1 907.1 709.6 902.5 715 C897.9 720.4 892.9 724.6 887.5 727.5 C882.1 730.4 874.6 732.5 870 732.5 C865.4 732.5 862.3 730.8 860 727.5 C857.7 724.2 856.2 718.8 856.2 712.5 C856.2 706.2 857.3 697.5 860 690 C862.7 682.5 868.3 673.1 872.5 667.5 C876.7 661.9 880.8 658.8 885 656.2 C889.2 653.8 893.3 652.3 897.5 652.5 Z"/>
<path d="M898.8 647 L908.8 653"/>
<path d="M855 723.8 L866.2 730"/>
<path d="M898.8 647 C896.5 647.7 889.8 648.2 885 651.2 C880.2 654.2 874.4 659 870 665 C865.6 671 861.2 680 858.8 687.5 C856.2 695 855.6 704 855 710 C854.4 716 855 721.5 855 723.8"/>
<path d="M890 673 C893.3 671.8 896.7 673 898.8 675 C900.8 677 902.7 680.8 902.5 685 C902.3 689.2 900.4 695.8 897.5 700 C894.6 704.2 888.5 708.5 885 710 C881.5 711.5 878.2 710.8 876.2 708.8 C874.2 706.7 872.6 701.9 873 697.5 C873.4 693.1 875.9 686.6 878.8 682.5 C881.6 678.4 886.7 674.2 890 673 Z"/>
<path d="M901.5 678 C901.2 680 901.3 685.9 900 690 C898.7 694.1 896.8 699.1 893.8 702.5 C890.8 705.9 884 709.2 882 710.5" stroke-width="1.6"/>
<ellipse cx="880.8" cy="670.8" rx="1.8" ry="3" transform="rotate(25 880.8 670.8)"/>
<ellipse cx="907" cy="665.8" rx="1.8" ry="3" transform="rotate(25 907 665.8)"/>
<ellipse cx="906.8" cy="697" rx="1.8" ry="3" transform="rotate(25 906.8 697)"/>
<ellipse cx="865" cy="705.5" rx="1.8" ry="3" transform="rotate(25 865 705.5)"/>
<ellipse cx="881.2" cy="722" rx="1.8" ry="3" transform="rotate(25 881.2 722)"/>
<path d="M881.2 722 L908.8 737.5" stroke-width="0.6" stroke="#333"/>
<path d="M873.8 493 L840 511.2" stroke-width="1.2" stroke="#000000"/>
<path d="M921.2 588.8 L805 631.2" stroke-width="1.2" stroke="#000000"/>
<path d="M957.5 440 L978.8 452 L965.5 460" stroke-width="1.2" stroke="#000000"/>
<path d="M789.4 496.2 C789.7 495.1 789.7 491 791.2 489.4 C792.8 487.8 797.2 487.8 798.8 486.5 C800.3 485.2 799.4 482.8 800.6 481.5 C801.9 480.2 804.5 478.8 806.2 478.8 C808 478.7 810 480 811.2 481.2 C812.5 482.5 813.5 485.2 814 486"/>
<path d="M789.4 496.2 C789.6 500.4 790.7 512.9 790.6 521.2 C790.5 529.6 788.3 541.1 788.8 546.2 C789.2 551.4 791.2 551.2 793.1 551.9 C795 552.5 798.9 550.3 800 550"/>
<path d="M800 550 L811.9 538.1"/>
<path d="M793.1 497.8 C793.3 501.7 794.5 513.4 794.4 521.2 C794.3 529.1 792.4 540.5 792.5 545 C792.6 549.5 794.6 547.9 795 548.5"/>
<ellipse cx="796.5" cy="495" rx="1.8" ry="1.8"/>
<ellipse cx="796.2" cy="546.9" rx="1.8" ry="1.8"/>
<path d="M790 517.5 L789.8 523.8" stroke-width="1.3"/>
<path d="M801.2 507.5 L811.2 490 L815.2 487 L820 489.5"/>
<path d="M801.2 507.5 L802 530.2 L812.5 537.8 L814 508.8" fill="#fff"/>
<path d="M806.2 506.2 L814 493.1 L818.1 490.6"/>
<path d="M810.6 507.5 L817.5 496.2 L821.2 494"/>
<path d="M803.5 509 L804.2 530" stroke-width="1.8" stroke="#333"/>
<path d="M807.5 508.1 L808.2 532.5" stroke-width="1.0"/>
<path d="M812.5 510.2 L813.2 536.5" stroke-width="2.0" stroke="#333"/>
<path d="M805 515 L806.2 517.5 L805.8 523.8 L804.8 526.2" stroke-width="1.2"/>
<path d="M814 508.1 C815.4 507.1 819.8 503.9 822.5 501.9 C825.2 499.9 828.8 497.2 830 496.2"/>
<path d="M830 496.2 C830.9 496.9 833.9 498.5 835.2 500.2 C836.6 502 837.6 501.5 838.1 506.5 C838.7 511.5 839 525.2 838.5 530 C838 534.8 837.5 533.1 835 535 C832.5 536.9 827 541 823.8 541.5 C820.5 542 816.7 538.8 815.2 538.2"/>
<path d="M815.2 538.2 L814 508.1"/>
<path d="M820 491.9 C820.8 491.6 823.5 489.7 825 490 C826.5 490.3 827.9 492.5 828.8 493.5 C829.6 494.5 829.8 495.8 830 496.2"/>
<ellipse cx="824.8" cy="495.8" rx="2.2" ry="2.2"/>
<ellipse cx="824.8" cy="495.8" rx="1.1" ry="1.1"/>
<ellipse cx="836" cy="507" rx="0.8" ry="0.8"/>
<ellipse cx="835.6" cy="530" rx="0.8" ry="0.8"/>
<path d="M816.5 519 L826.2 517.5"/>
<path d="M817.8 527.5 L825.2 520"/>
<path d="M820.2 523.8 L823.8 527.5"/>
<path d="M831.5 506.9 L833.8 508.1 L831 510 L834 512.2 L831.2 514.4 L834 516.5 L831.2 518.8 L833.8 521 L831 523.5 L834 526 L831.5 528.5 L833.5 531 L830.2 533.5" stroke-width="1.1"/>
</g>
<g class="t" opacity="0.999">
<text transform="translate(515.1 36) scale(1 1.06)">22</text>
<text transform="translate(475.1 60) scale(1 1.06)">21</text>
<text transform="translate(434.4 84) scale(1 1.06)">17</text>
<text transform="translate(396.9 107) scale(1 1.06)">20</text>
<text transform="translate(586.4 93) scale(1 1.06)">15</text>
<text transform="translate(617.4 76.8) scale(1 1.06)">17</text>
<text transform="translate(660.6 51) scale(1 1.06)">16</text>
<text transform="translate(710.1 21) scale(1 1.06)">25</text>
<text transform="translate(391.4 204.8) scale(1 1.06)">18</text>
<text transform="translate(351.1 228.6) scale(1 1.06)">17</text>
<text transform="translate(606.4 239.8) scale(1 1.06)">1</text>
<text transform="translate(736.4 203) scale(1 1.06)">3</text>
<text transform="translate(852.4 209) scale(1 1.06)">6</text>
<text transform="translate(873.1 209) scale(1 1.06)">LH</text>
<text transform="translate(852.4 232.5) scale(1 1.06)">7</text>
<text transform="translate(873.1 232.5) scale(1 1.06)">RH</text>
<text transform="translate(935.4 276.5) scale(1 1.06)">34</text>
<text transform="translate(974.6 323) scale(1 1.06)">10</text>
<text transform="translate(1008.9 323) scale(1 1.06)">LH</text>
<text transform="translate(975.9 344.8) scale(1 1.06)">11</text>
<text transform="translate(1008.9 344.8) scale(1 1.06)">RH</text>
<text transform="translate(988.4 406) scale(1 1.06)">10:1</text>
<text transform="translate(989.6 430.5) scale(1 1.06)">11:1</text>
<text transform="translate(757.4 406) scale(1 1.06)">26</text>
<text transform="translate(758.4 444) scale(1 1.06)">3</text>
<text transform="translate(834.4 467) scale(1 1.06)">5</text>
<text transform="translate(875.4 494.8) scale(1 1.06)">4</text>
<text transform="translate(340.4 439.8) scale(1 1.06)">23</text>
<text transform="translate(341.4 477.2) scale(1 1.06)">14</text>
<text transform="translate(342.1 514) scale(1 1.06)">13</text>
<text transform="translate(233.2 482.2) scale(1 1.06)">24</text>
<text transform="translate(62.4 515.5) scale(1 1.06)">29</text>
<text transform="translate(62.4 571) scale(1 1.06)">28</text>
<text transform="translate(63.1 626.5) scale(1 1.06)">30</text>
<text transform="translate(313.9 589) scale(1 1.06)">33</text>
<text transform="translate(143.9 720.5) scale(1 1.06)">27</text>
<text transform="translate(251.9 786) scale(1 1.06)">32</text>
<text transform="translate(793.1 584.8) scale(1 1.06)">2:2</text>
<text transform="translate(924.9 593.5) scale(1 1.06)">31</text>
<text transform="translate(593.1 689) scale(1 1.06)">2</text>
<text transform="translate(640.6 714) scale(1 1.06)">3</text>
<text transform="translate(763.1 781.5) scale(1 1.06)">9</text>
<text transform="translate(1163.4 538.5) scale(1 1.06)">12</text>
<text transform="translate(1163.4 563.5) scale(1 1.06)">12:3</text>
<text transform="translate(1185.4 601) scale(1 1.06)">12:2</text>
<text transform="translate(1212.2 639.8) scale(1 1.06)">12:1</text>
<text transform="translate(1158.9 968.5) scale(1 1.06)">19</text>
</g>
</svg>
</body></html>
